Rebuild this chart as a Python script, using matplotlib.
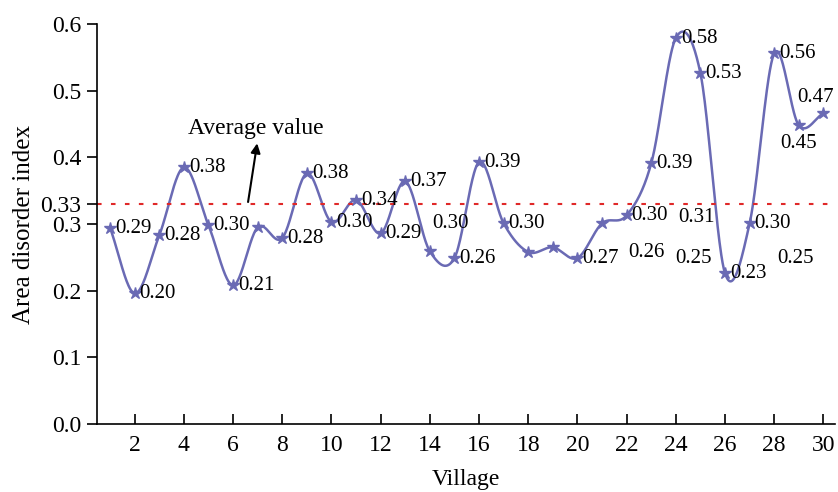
import matplotlib
matplotlib.use('Agg')
import matplotlib.pyplot as plt
import numpy as np

plt.rcParams['font.family'] = ['Liberation Serif', 'DejaVu Serif']

# 数据
village = np.arange(1, 31)
disorder = [0.294, 0.196, 0.283, 0.385, 0.298, 0.208, 0.295, 0.279, 0.376, 0.303,
            0.336, 0.286, 0.364, 0.259, 0.249, 0.393, 0.301, 0.258, 0.265, 0.249,
            0.301, 0.313, 0.391, 0.579, 0.526, 0.226, 0.301, 0.556, 0.448, 0.466]
average = 0.33

# 点旁边的标签 (村号, 文本)
point_labels = [(1, '0.29'), (2, '0.20'), (3, '0.28'), (4, '0.38'), (5, '0.30'),
                (6, '0.21'), (8, '0.28'), (9, '0.38'), (10, '0.30'), (11, '0.34'),
                (12, '0.29'), (13, '0.37'), (15, '0.26'), (16, '0.39'), (17, '0.30'),
                (20, '0.27'), (22, '0.30'), (23, '0.39'), (24, '0.58'), (25, '0.53'),
                (26, '0.23'), (27, '0.30'), (28, '0.56'), (29, '0.45'), (30, '0.47')]
# 散落的标签
loose_labels = ['0.30', '0.26', '0.31', '0.25', '0.25']
loose_x = [14.09, 22.06, 24.09, 23.97, 28.11]
loose_y = [0.301, 0.258, 0.310, 0.249, 0.249]

yticks = [0.0, 0.1, 0.2, 0.3, 0.33, 0.4, 0.5, 0.6]
ytick_labels = ['0.0', '0.1', '0.2', '0.3', '0.33', '0.4', '0.5', '0.6']
xticks = np.arange(2, 31, 2)


def smooth(x, y, n=40):
    # Catmull-Rom 平滑曲线, 只用来画线
    x = np.asarray(x, float)
    y = np.asarray(y, float)
    m = np.gradient(y, x)
    xs_all, ys_all = [], []
    for i in range(len(x) - 1):
        h = x[i + 1] - x[i]
        t = np.linspace(0, 1, n, endpoint=(i == len(x) - 2))
        h00 = 2 * t ** 3 - 3 * t ** 2 + 1
        h10 = t ** 3 - 2 * t ** 2 + t
        h01 = -2 * t ** 3 + 3 * t ** 2
        h11 = t ** 3 - t ** 2
        xs_all.append(x[i] + t * h)
        ys_all.append(h00 * y[i] + h10 * h * m[i] + h01 * y[i + 1] + h11 * h * m[i + 1])
    return np.concatenate(xs_all), np.concatenate(ys_all)


color = '#6a6ab4'
fig = plt.figure(figsize=(8.38, 4.92), dpi=100)
ax = fig.add_axes([0.1158, 0.1382, 0.8806, 0.813])

xs, ys = smooth(village, disorder)
ax.plot(xs, ys, color=color, linewidth=1.8)
ax.plot(village, disorder, linestyle='none', marker='*', markersize=9, color=color)

ax.axhline(average, color='#e02828', linestyle=(0, (2.2, 4.5)), linewidth=1.5)

fs_lab = 15
for v, txt in point_labels:
    val = disorder[v - 1]
    if v == 29:
        ax.annotate(txt, (v, val), xytext=(0, -18), textcoords='offset pixels',
                    ha='center', va='center', fontsize=fs_lab)
    elif v == 30:
        ax.annotate(txt, (v, val), xytext=(-8, 16), textcoords='offset pixels',
                    ha='center', va='center', fontsize=fs_lab)
    else:
        ax.annotate(txt, (v, val), xytext=(5, 0), textcoords='offset pixels',
                    ha='left', va='center', fontsize=fs_lab)
for txt, lx, ly in zip(loose_labels, loose_x, loose_y):
    ax.text(lx, ly, txt, ha='left', va='center', fontsize=fs_lab)

ax.annotate('', xy=(6.98, 0.421), xytext=(6.61, 0.333),
            arrowprops=dict(arrowstyle='-|>', color='black', lw=1.5, mutation_scale=14,
                            shrinkA=0, shrinkB=0))
ax.text(6.93, 0.444, 'Average value', ha='center', va='center', fontsize=17)

ax.set_xlim(0.47, 30.47)
ax.set_ylim(0, 0.6)
ax.set_xticks(xticks)
ax.set_yticks(yticks)
ax.set_yticklabels(ytick_labels)
ax.tick_params(axis='x', direction='in', length=7, width=1.2, labelsize=17, pad=8)
ax.tick_params(axis='y', direction='out', length=7, width=1.2, labelsize=17, pad=4.5)
ax.spines['top'].set_visible(False)
ax.spines['right'].set_visible(False)
ax.spines['left'].set_linewidth(1.2)
ax.spines['bottom'].set_linewidth(1.2)
ax.set_xlabel('Village', fontsize=17, labelpad=9)
ax.set_ylabel('Area disorder index', fontsize=18, labelpad=4)

fig.savefig('out.png', dpi=100)
